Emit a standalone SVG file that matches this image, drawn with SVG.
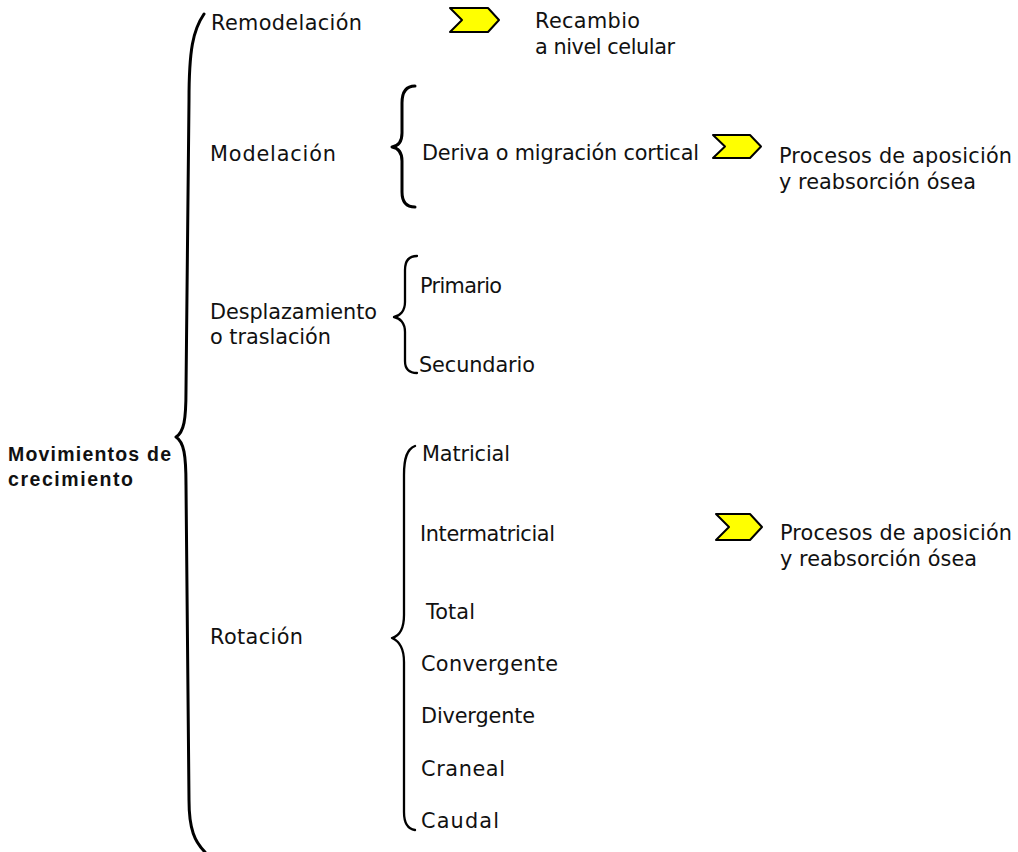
<svg xmlns="http://www.w3.org/2000/svg" width="1018" height="852" viewBox="0 0 1018 852">
<style>
  text { font-family: "DejaVu Sans", "Liberation Sans", sans-serif; font-size: 20.8px; fill: #111; }
  .b { font-family: "Liberation Sans", Arial, sans-serif; font-weight: bold; font-size: 19.5px; }
  .brace { fill: none; stroke: #000; stroke-width: 3; stroke-linecap: round; stroke-linejoin: round; }
  .thin { stroke-width: 2.3; }
  .chev { fill: #FFFF00; stroke: #000; stroke-width: 2; stroke-linejoin: round; }
</style>
<rect width="1018" height="852" fill="#fff"/>

<g id="connectors">
  <path class="brace" d="M204,14 C193,30 189,50 189,100 L186,390 C186,420 184,432 176,437 C184,442 186,455 186,485 L189,800 C189,830 195,842 205,852"/>
  <path class="brace" d="M415,86 C406,86 402,92 402,103 L402,133 C402,142 398,146 392,147 C398,148 402,152 402,161 L402,192 C402,202 406,207 415,207"/>
  <path class="brace thin" d="M417,256 C409,256 405,261 405,270 L405,302 C405,311 400,316 394,317 C400,318 405,323 405,332 L405,361 C405,369 409,373 417,373"/>
  <path class="brace thin" d="M415,446 C407,449 404,458 404,475 L404,615 C404,630 399,636 392,638 C399,641 404,648 404,662 L404,812 C404,824 408,829 415,830"/>
  <polygon class="chev" points="450,8 488,8 499,20 488,32 450,32 462,20"/>
  <polygon class="chev" points="713,135 750,135 761,146.5 750,158 713,158 725,146.5"/>
  <polygon class="chev" points="716,514 750,514 762,527 750,540 716,540 729,527"/>
</g>

<g id="root">
  <text class="b" x="8" y="461" textLength="163">Movimientos de</text>
  <text class="b" x="8" y="486" textLength="125">crecimiento</text>
</g>
<g id="remodelacion">
  <text x="211" y="30" textLength="151">Remodelación</text>
</g>
<g id="recambio">
  <text x="535" y="28" textLength="105">Recambio</text>
  <text x="535" y="54" textLength="140">a nivel celular</text>
</g>
<g id="modelacion">
  <text x="210" y="161" textLength="126">Modelación</text>
</g>
<g id="deriva">
  <text x="422" y="160" textLength="277">Deriva o migración cortical</text>
</g>
<g id="procesos1">
  <text x="779" y="163" textLength="233">Procesos de aposición</text>
  <text x="779" y="189" textLength="197">y reabsorción ósea</text>
</g>
<g id="desplazamiento">
  <text x="210" y="319" textLength="167">Desplazamiento</text>
  <text x="210" y="344" textLength="121">o traslación</text>
</g>
<g id="primario">
  <text x="420" y="293" textLength="82">Primario</text>
</g>
<g id="secundario">
  <text x="419" y="372" textLength="116">Secundario</text>
</g>
<g id="rotacion">
  <text x="210" y="644" textLength="93">Rotación</text>
</g>
<g id="matricial">
  <text x="422" y="461" textLength="88">Matricial</text>
</g>
<g id="intermatricial">
  <text x="420" y="541" textLength="135">Intermatricial</text>
</g>
<g id="procesos2">
  <text x="780" y="540" textLength="232">Procesos de aposición</text>
  <text x="780" y="566" textLength="197">y reabsorción ósea</text>
</g>
<g id="total">
  <text x="426" y="619" textLength="49">Total</text>
</g>
<g id="convergente">
  <text x="421" y="671" textLength="137">Convergente</text>
</g>
<g id="divergente">
  <text x="421" y="723" textLength="114">Divergente</text>
</g>
<g id="craneal">
  <text x="421" y="776" textLength="84">Craneal</text>
</g>
<g id="caudal">
  <text x="421" y="828" textLength="78">Caudal</text>
</g>
</svg>
